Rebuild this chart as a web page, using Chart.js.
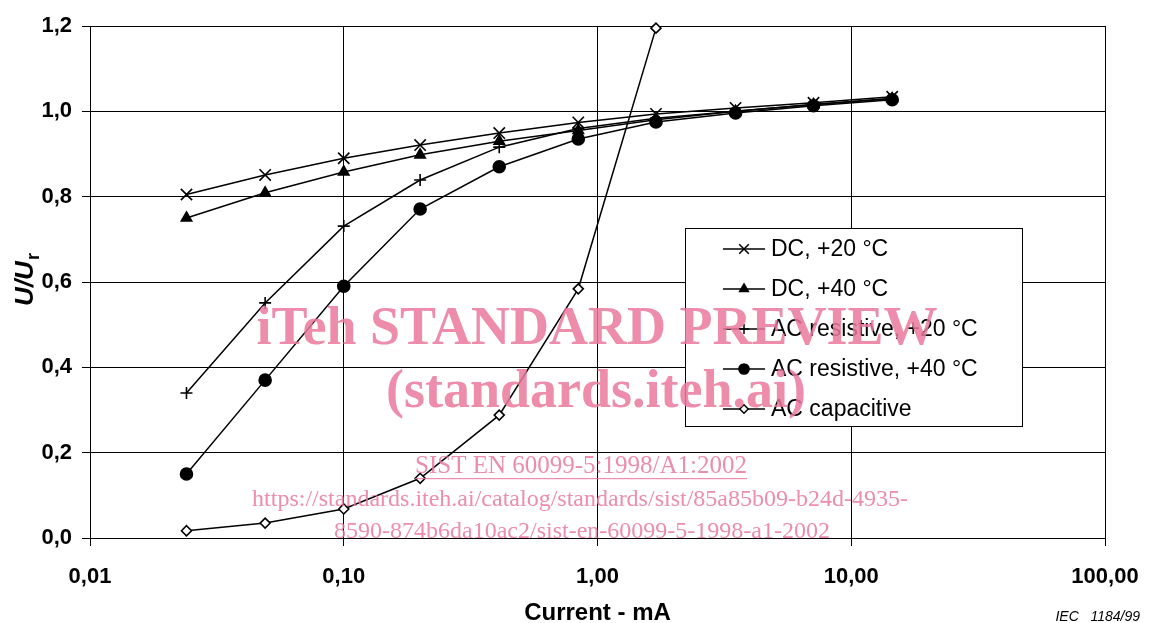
<!DOCTYPE html>
<html>
<head>
<meta charset="utf-8">
<script src="https://cdn.jsdelivr.net/npm/chart.js@4.4.0/dist/chart.umd.min.js"></script>
<style>
  html, body { margin: 0; padding: 0; background: #fff; }
  #wrap { width: 1165px; height: 623px; }
</style>
</head>
<body>
<div id="wrap"><canvas id="chart" width="1165" height="623"></canvas></div>
<script>
// current in mA (same for all series)
const currents = [0.024, 0.049, 0.1, 0.2, 0.41, 0.84, 1.7, 3.5, 7.1, 14.5];

const dc20 = [0.805, 0.851, 0.89, 0.921, 0.949, 0.974, 0.994, 1.008, 1.02, 1.034];
const dc40 = [0.75, 0.809, 0.858, 0.898, 0.93, 0.955, 0.98, 1.0, 1.016, 1.03];
const acRes20 = [0.34, 0.551, 0.731, 0.839, 0.916, 0.96, 0.984, 1.0, 1.016, 1.03];
const acRes40 = [0.15, 0.37, 0.59, 0.771, 0.87, 0.935, 0.975, 0.996, 1.013, 1.027];
const acCap = [0.017, 0.035, 0.068, 0.14, 0.288, 0.584, 1.195];

const xTicks = [0.01, 0.1, 1, 10, 100];
const xTickLabels = ['0,01', '0,10', '1,00', '10,00', '100,00'];
const yTickLabels = ['0,0', '0,2', '0,4', '0,6', '0,8', '1,0', '1,2'];

const seriesNames = ['DC, +20 °C', 'DC, +40 °C', 'AC resistive, +20 °C', 'AC resistive, +40 °C', 'AC capacitive'];

const FONT = '"Liberation Sans", Arial, sans-serif';

function pts(vals) {
  return vals.map((v, i) => ({ x: currents[i], y: v }));
}

function series(label, vals, style, radius, fill) {
  return {
    label: label,
    data: pts(vals),
    borderColor: '#000',
    borderWidth: 1.5,
    pointStyle: style,
    pointRadius: radius,
    pointHoverRadius: radius,
    pointBorderWidth: 1.6,
    pointBorderColor: '#000',
    pointBackgroundColor: fill,
    tension: 0,
    clip: false
  };
}

// legend box, axis titles, figure number, watermark
const extras = {
  id: 'extras',
  afterDraw(chart) {
    const ctx = chart.ctx;
    const ca = chart.chartArea;
    ctx.save();

    // legend
    const lx = 685, ly = 228, lw = 337, lh = 198;
    ctx.fillStyle = '#fff';
    ctx.fillRect(lx, ly, lw, lh);
    ctx.strokeStyle = '#000';
    ctx.lineWidth = 1;
    ctx.strokeRect(lx + 0.5, ly + 0.5, lw, lh);
    chart.data.datasets.forEach((ds, i) => {
      const y = ly + 21 + i * 40;
      ctx.strokeStyle = '#000';
      ctx.lineWidth = 1.5;
      ctx.beginPath();
      ctx.moveTo(723, y);
      ctx.lineTo(765, y);
      ctx.stroke();
      ctx.fillStyle = ds.pointBackgroundColor;
      ctx.strokeStyle = '#000';
      ctx.lineWidth = 1.5;
      Chart.helpers.drawPoint(ctx, {
        pointStyle: ds.pointStyle,
        radius: ds.pointRadius * 0.85,
        rotation: 0,
        borderWidth: 1.5
      }, 744, y);
      ctx.fillStyle = '#000';
      ctx.font = '23px ' + FONT;
      ctx.textAlign = 'left';
      ctx.textBaseline = 'middle';
      ctx.fillText(ds.label, 771, y + 1);
    });

    // x title
    ctx.fillStyle = '#000';
    ctx.font = 'bold 24px ' + FONT;
    ctx.textAlign = 'center';
    ctx.textBaseline = 'middle';
    ctx.fillText('Current - mA', (ca.left + ca.right) / 2, 613);

    // y title  U/U with subscript r
    ctx.save();
    ctx.translate(33, 280);
    ctx.rotate(-Math.PI / 2);
    const main = 'U/U';
    ctx.font = 'bold 18px ' + FONT;
    const wSub = ctx.measureText('r').width;
    ctx.font = 'italic bold 26px ' + FONT;
    const wMain = ctx.measureText(main).width;
    const start = -(wMain + wSub) / 2;
    ctx.textAlign = 'left';
    ctx.textBaseline = 'alphabetic';
    ctx.fillText(main, start, 0);
    ctx.font = 'bold 18px ' + FONT;
    ctx.fillText('r', start + wMain + 1, 6);
    ctx.restore();

    // figure number
    ctx.font = 'italic 14px ' + FONT;
    ctx.textAlign = 'right';
    ctx.textBaseline = 'middle';
    ctx.fillText('IEC   1184/99', 1140, 617);

    // watermark
    ctx.fillStyle = 'rgba(234, 120, 156, 0.85)';
    ctx.textAlign = 'center';
    ctx.textBaseline = 'middle';
    ctx.font = 'bold 54px "Liberation Serif", serif';
    ctx.fillText('iTeh STANDARD PREVIEW', 597, 330);
    ctx.fillText('(standards.iteh.ai)', 596, 393);
    ctx.font = '25px "Liberation Serif", serif';
    const sist = 'SIST EN 60099-5:1998/A1:2002';
    ctx.fillText(sist, 581, 466);
    const sw = ctx.measureText(sist).width;
    ctx.fillRect(581 - sw / 2, 478, sw, 1.2);
    ctx.font = '24px "Liberation Serif", serif';
    ctx.fillText('https://standards.iteh.ai/catalog/standards/sist/85a85b09-b24d-4935-', 580, 500);
    ctx.fillText('8590-874b6da10ac2/sist-en-60099-5-1998-a1-2002', 582, 532);

    ctx.restore();
  }
};

new Chart(document.getElementById('chart'), {
  type: 'line',
  data: {
    datasets: [
      series(seriesNames[0], dc20, 'crossRot', 8, '#000'),
      series(seriesNames[1], dc40, 'triangle', 6, '#000'),
      series(seriesNames[2], acRes20, 'cross', 6, '#000'),
      series(seriesNames[3], acRes40, 'circle', 6, '#000'),
      series(seriesNames[4], acCap, 'rectRot', 5, '#fff')
    ]
  },
  options: {
    responsive: false,
    animation: false,
    devicePixelRatio: 1,
    layout: { padding: { top: 26, right: 60, left: 0, bottom: 0 } },
    plugins: {
      legend: { display: false },
      tooltip: { enabled: false }
    },
    scales: {
      x: {
        type: 'logarithmic',
        min: 0.01,
        max: 100,
        afterBuildTicks: scale => {
          scale.ticks = xTicks.map(v => ({ value: v }));
        },
        afterFit: scale => { scale.height = 85; },
        ticks: {
          autoSkip: false,
          maxRotation: 0,
          padding: 18,
          color: '#000',
          font: { family: FONT, size: 22, weight: 'bold' },
          callback: (v) => {
            const i = xTicks.indexOf(v);
            return i >= 0 ? xTickLabels[i] : null;
          }
        },
        grid: { color: '#000', lineWidth: 1, tickLength: 8, drawTicks: true },
        border: { color: '#000', width: 1 }
      },
      y: {
        min: 0,
        max: 1.2,
        afterFit: scale => { scale.width = 90; },
        ticks: {
          stepSize: 0.2,
          padding: 10,
          color: '#000',
          font: { family: FONT, size: 22, weight: 'bold' },
          callback: (v, i) => yTickLabels[i]
        },
        grid: { color: '#000', lineWidth: 1, tickLength: 8, drawTicks: true },
        border: { color: '#000', width: 1 }
      }
    }
  },
  plugins: [extras]
});
</script>
</body>
</html>
